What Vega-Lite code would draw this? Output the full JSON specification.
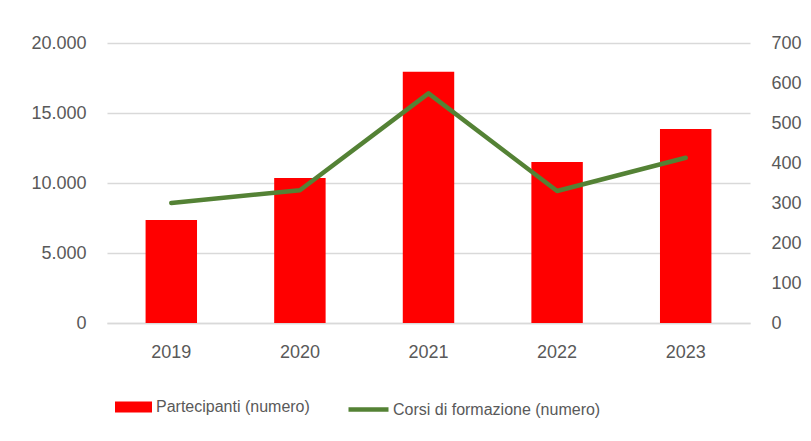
{
  "$schema": "https://vega.github.io/schema/vega-lite/v6.json",
  "width": 643,
  "height": 280,
  "autosize": {"type": "none"},
  "padding": {"left": 107, "top": 43, "right": 61, "bottom": 118},
  "background": "#ffffff",
  "data": {
    "values": [
      {"anno": "2019", "partecipanti": 7350, "corsi": 300},
      {"anno": "2020", "partecipanti": 10350, "corsi": 332},
      {"anno": "2021", "partecipanti": 17950, "corsi": 574},
      {"anno": "2022", "partecipanti": 11500, "corsi": 330},
      {"anno": "2023", "partecipanti": 13850, "corsi": 413}
    ]
  },
  "encoding": {
    "x": {
      "field": "anno",
      "type": "nominal",
      "scale": {"paddingInner": 0.6, "paddingOuter": 0.3},
      "axis": {
        "title": null,
        "labelAngle": 0,
        "labelFont": "Liberation Sans",
        "labelFontSize": 18,
        "labelColor": "#595959",
        "labelPadding": 20,
        "ticks": false,
        "domainColor": "#d9d9d9",
        "domainWidth": 1.5
      }
    }
  },
  "layer": [
    {
      "mark": {"type": "bar", "color": "#ff0000"},
      "encoding": {
        "y": {
          "field": "partecipanti",
          "type": "quantitative",
          "scale": {"domain": [0, 20000], "nice": false},
          "axis": {
            "title": null,
            "values": [0, 5000, 10000, 15000, 20000],
            "labelExpr": "replace(format(datum.value, ','), ',', '.')",
            "labelFont": "Liberation Sans",
            "labelFontSize": 18,
            "labelColor": "#595959",
            "labelPadding": 21,
            "ticks": false,
            "domain": false,
            "gridColor": "#d9d9d9",
            "gridWidth": 1.5
          }
        },
        "fill": {
          "datum": "Partecipanti (numero)",
          "type": "nominal",
          "scale": {"range": ["#ff0000"]},
          "legend": {
            "title": null,
            "orient": "none",
            "legendX": 8,
            "legendY": 345.5,
            "padding": 0,
            "symbolType": "M-1,-0.3H1V0.3H-1Z",
            "symbolSize": 1369,
            "symbolStrokeWidth": 0,
            "labelFont": "Liberation Sans",
            "labelFontSize": 16,
            "labelColor": "#595959",
            "labelOffset": 4,
            "labelLimit": 0
          }
        }
      }
    },
    {
      "mark": {"type": "line", "strokeWidth": 4.5, "strokeCap": "round", "strokeJoin": "round"},
      "encoding": {
        "y": {
          "field": "corsi",
          "type": "quantitative",
          "scale": {"domain": [0, 700], "nice": false},
          "axis": {
            "title": null,
            "orient": "right",
            "values": [0, 100, 200, 300, 400, 500, 600, 700],
            "labelFont": "Liberation Sans",
            "labelFontSize": 18,
            "labelColor": "#595959",
            "labelPadding": 21,
            "ticks": false,
            "domain": false,
            "grid": false
          }
        },
        "stroke": {
          "datum": "Corsi di formazione (numero)",
          "type": "nominal",
          "scale": {"range": ["#548235"]},
          "legend": {
            "title": null,
            "orient": "none",
            "legendX": 239,
            "legendY": 344,
            "padding": 0,
            "symbolType": "stroke",
            "symbolSize": 1600,
            "symbolStrokeWidth": 4.5,
            "labelFont": "Liberation Sans",
            "labelFontSize": 16,
            "labelColor": "#595959",
            "labelOffset": 2,
            "labelLimit": 0
          }
        }
      }
    }
  ],
  "resolve": {"scale": {"y": "independent", "fill": "independent", "stroke": "independent"}, "legend": {"fill": "independent", "stroke": "independent"}},
  "config": {"view": {"stroke": null}}
}
